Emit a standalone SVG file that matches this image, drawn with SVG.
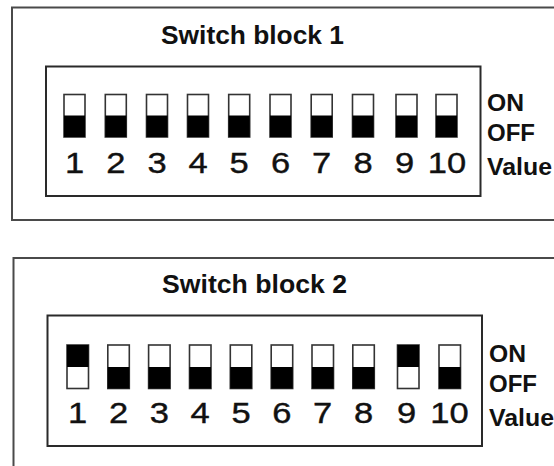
<svg xmlns="http://www.w3.org/2000/svg" width="554" height="466" viewBox="0 0 554 466">
<style>
.outer{fill:none;stroke:#4a4a4a;stroke-width:2}
.inner{fill:none;stroke:#2a2a2a;stroke-width:2}
.sw{fill:#fff;stroke:#333;stroke-width:1.6}
.blk{fill:#000}
.title{font-family:"Liberation Sans",Arial,sans-serif;font-weight:bold;font-size:25px;fill:#111}
.lab{font-family:"Liberation Sans",Arial,sans-serif;font-weight:bold;font-size:23.5px;fill:#111}
.num{font-family:"Liberation Sans",Arial,sans-serif;font-size:30px;fill:#111;stroke:#111;stroke-width:0.4;text-anchor:middle}
</style>
<rect width="554" height="466" fill="#fff"/>
<g id="block1">
<rect class="outer" x="12" y="7.5" width="560" height="212.5"/>
<text class="title" x="161" y="43.5" textLength="183" lengthAdjust="spacingAndGlyphs">Switch block 1</text>
<rect class="inner" x="46" y="66.5" width="434.5" height="129.5"/>
<g id="b1-switches">
<rect class="sw" x="64" y="94.5" width="21" height="42.5"/><rect class="blk" x="64" y="115.5" width="21" height="21.5"/>
<rect class="sw" x="105.3" y="94.5" width="21" height="42.5"/><rect class="blk" x="105.3" y="115.5" width="21" height="21.5"/>
<rect class="sw" x="146.5" y="94.5" width="21" height="42.5"/><rect class="blk" x="146.5" y="115.5" width="21" height="21.5"/>
<rect class="sw" x="187.5" y="94.5" width="21" height="42.5"/><rect class="blk" x="187.5" y="115.5" width="21" height="21.5"/>
<rect class="sw" x="228.7" y="94.5" width="21" height="42.5"/><rect class="blk" x="228.7" y="115.5" width="21" height="21.5"/>
<rect class="sw" x="270" y="94.5" width="21" height="42.5"/><rect class="blk" x="270" y="115.5" width="21" height="21.5"/>
<rect class="sw" x="311.2" y="94.5" width="21" height="42.5"/><rect class="blk" x="311.2" y="115.5" width="21" height="21.5"/>
<rect class="sw" x="352.5" y="94.5" width="21" height="42.5"/><rect class="blk" x="352.5" y="115.5" width="21" height="21.5"/>
<rect class="sw" x="396" y="94.5" width="21" height="42.5"/><rect class="blk" x="396" y="115.5" width="21" height="21.5"/>
<rect class="sw" x="436" y="94.5" width="21" height="42.5"/><rect class="blk" x="436" y="115.5" width="21" height="21.5"/>
</g>
<g id="b1-numbers">
<text class="num" transform="translate(74.5,173.3) scale(1.15,1)">1</text>
<text class="num" transform="translate(115.8,173.3) scale(1.15,1)">2</text>
<text class="num" transform="translate(157,173.3) scale(1.15,1)">3</text>
<text class="num" transform="translate(198,173.3) scale(1.15,1)">4</text>
<text class="num" transform="translate(239.2,173.3) scale(1.15,1)">5</text>
<text class="num" transform="translate(280.5,173.3) scale(1.15,1)">6</text>
<text class="num" transform="translate(321.7,173.3) scale(1.15,1)">7</text>
<text class="num" transform="translate(363,173.3) scale(1.15,1)">8</text>
<text class="num" transform="translate(404.5,173.3) scale(1.15,1)">9</text>
<text class="num" transform="translate(447,173.3) scale(1.15,1)">10</text>
</g>
<text class="lab" x="487" y="111" textLength="37" lengthAdjust="spacingAndGlyphs">ON</text>
<text class="lab" x="487" y="141" textLength="48" lengthAdjust="spacingAndGlyphs">OFF</text>
<text class="lab" x="487" y="175" textLength="65" lengthAdjust="spacingAndGlyphs">Value</text>
</g>
<g id="block2">
<rect class="outer" x="13.5" y="258" width="560" height="230"/>
<text class="title" x="162" y="293" textLength="185" lengthAdjust="spacingAndGlyphs">Switch block 2</text>
<rect class="inner" x="47.5" y="315.5" width="434.5" height="130.5"/>
<g id="b2-switches">
<rect class="sw" x="67" y="345" width="21.5" height="43.5"/><rect class="blk" x="67" y="345" width="21.5" height="22"/>
<rect class="sw" x="107.8" y="345" width="21.5" height="43.5"/><rect class="blk" x="107.8" y="367" width="21.5" height="21.5"/>
<rect class="sw" x="148.6" y="345" width="21.5" height="43.5"/><rect class="blk" x="148.6" y="367" width="21.5" height="21.5"/>
<rect class="sw" x="189.5" y="345" width="21.5" height="43.5"/><rect class="blk" x="189.5" y="367" width="21.5" height="21.5"/>
<rect class="sw" x="230.3" y="345" width="21.5" height="43.5"/><rect class="blk" x="230.3" y="367" width="21.5" height="21.5"/>
<rect class="sw" x="271.2" y="345" width="21.5" height="43.5"/><rect class="blk" x="271.2" y="367" width="21.5" height="21.5"/>
<rect class="sw" x="312" y="345" width="21.5" height="43.5"/><rect class="blk" x="312" y="367" width="21.5" height="21.5"/>
<rect class="sw" x="352.8" y="345" width="21.5" height="43.5"/><rect class="blk" x="352.8" y="367" width="21.5" height="21.5"/>
<rect class="sw" x="397.5" y="345" width="21.5" height="43.5"/><rect class="blk" x="397.5" y="345" width="21.5" height="22"/>
<rect class="sw" x="439" y="345" width="21.5" height="43.5"/><rect class="blk" x="439" y="367" width="21.5" height="21.5"/>
</g>
<g id="b2-numbers">
<text class="num" transform="translate(77.7,423.3) scale(1.15,1)">1</text>
<text class="num" transform="translate(118.5,423.3) scale(1.15,1)">2</text>
<text class="num" transform="translate(159.3,423.3) scale(1.15,1)">3</text>
<text class="num" transform="translate(200.2,423.3) scale(1.15,1)">4</text>
<text class="num" transform="translate(241,423.3) scale(1.15,1)">5</text>
<text class="num" transform="translate(281.9,423.3) scale(1.15,1)">6</text>
<text class="num" transform="translate(322.7,423.3) scale(1.15,1)">7</text>
<text class="num" transform="translate(363.5,423.3) scale(1.15,1)">8</text>
<text class="num" transform="translate(406.5,423.3) scale(1.15,1)">9</text>
<text class="num" transform="translate(449.5,423.3) scale(1.15,1)">10</text>
</g>
<text class="lab" x="489" y="362" textLength="37" lengthAdjust="spacingAndGlyphs">ON</text>
<text class="lab" x="489" y="392" textLength="48" lengthAdjust="spacingAndGlyphs">OFF</text>
<text class="lab" x="489" y="426" textLength="65" lengthAdjust="spacingAndGlyphs">Value</text>
</g>
<g id="connectors"></g>
</svg>
